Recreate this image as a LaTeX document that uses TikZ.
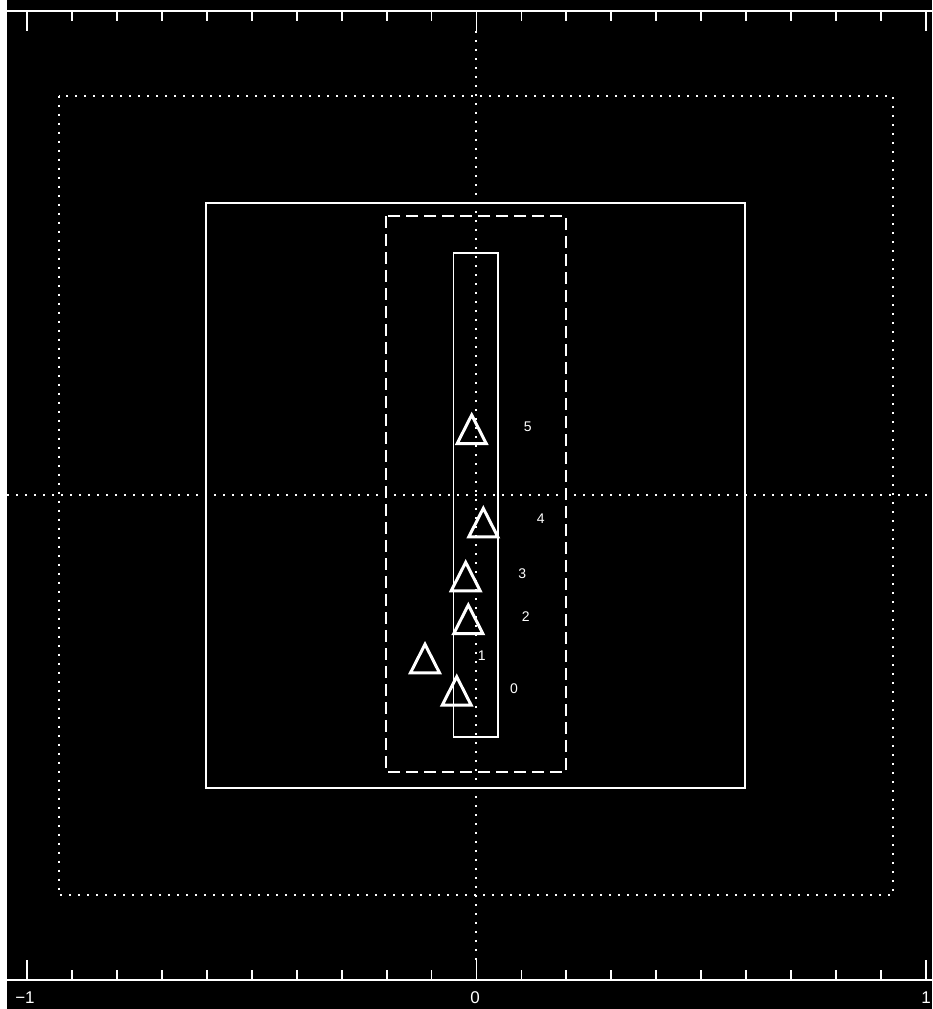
\documentclass[tikz,border=0pt]{standalone}
\usepackage{fontspec}
\setmainfont{Liberation Sans}
\begin{document}
\begin{tikzpicture}[x=1pt,y=-1pt,line join=miter,
  ln/.style={draw=white,line width=1.8pt},
  dotln/.style={draw=white,line width=2pt,dash pattern=on 2pt off 7pt},
  dashln/.style={draw=white,line width=1.8pt,dash pattern=on 12pt off 6pt},
  triline/.style={draw=white,line width=3pt},
  lab/.style={text=white,font=\fontsize{14}{14}\selectfont,inner sep=0pt},
  axlab/.style={text=white,font=\fontsize{17}{17}\selectfont,inner sep=0pt},
  tri/.pic={\draw[triline] (0,0) -- (14.5,28.5) -- (-14.5,28.5) -- cycle;}]
\useasboundingbox (0,0) rectangle (932,1009);
\fill[black] (0,0) rectangle (932,1009);
\fill[white] (0,0) rectangle (7,1009);
% dotted reference lines
\draw[dotln] (476,31) -- (476,960);
\draw[dotln] (7,495) -- (932,495);
\draw[dotln] (58.7,95.7) rectangle (893,895);
% frames
\draw[ln] (206,202.7) rectangle (745,788);
\draw[dashln] (386,216) rectangle (566,772);
\draw[ln] (453.5,253) rectangle (498.3,737.3);
% axes
\draw[ln] (7,10.7) -- (932,10.7);
\draw[ln] (7,980) -- (932,980);
\foreach \i in {0,...,20}{
  \pgfmathsetmacro{\xx}{27.3+44.92*\i}
  \ifnum\i=0 \def\tl{20}\else\ifnum\i=10 \def\tl{20}\else\ifnum\i=20 \def\tl{20}\else\def\tl{10}\fi\fi\fi
  \draw[ln] (\xx,10.7) -- ++(0,\tl);
  \draw[ln] (\xx,980) -- ++(0,-\tl);
}
\node[axlab] (lm1) at (25,998) {−1};
\node[axlab] (l0) at (475,998) {0};
\node[axlab] (l1) at (926,998) {1};
% triangles
\pic at (471.7,415) {tri};
\pic at (483.3,508.3) {tri};
\pic at (465.7,562.3) {tri};
\pic at (468.3,605) {tri};
\pic at (425,644.3) {tri};
\pic at (456.7,676.7) {tri};
% labels
\node[lab] (t5) at (527.7,426.7) {5};
\node[lab] (t4) at (540.7,519) {4};
\node[lab] (t3) at (522.3,573.3) {3};
\node[lab] (t2) at (525.7,616.7) {2};
\node[lab] (t1) at (481.7,656) {1};
\node[lab] (t0) at (514,688.3) {0};
\end{tikzpicture}
\end{document}
